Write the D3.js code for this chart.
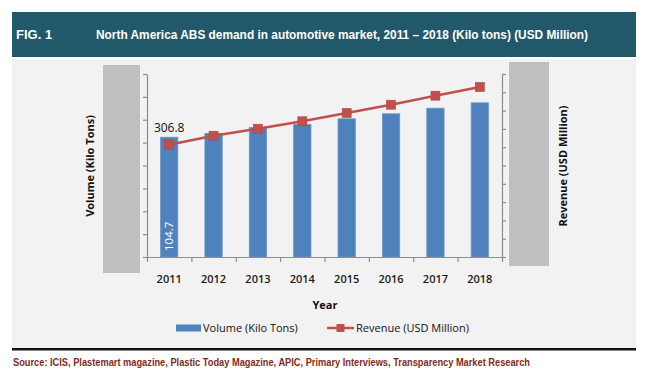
<!DOCTYPE html>
<html>
<head>
<meta charset="utf-8">
<script src="https://cdn.jsdelivr.net/npm/d3@7"></script>
<style>
  body { margin: 0; background: #fff; }
  svg { display: block; }
</style>
</head>
<body>
<div id="chart"></div>
<script>
// chart values
const years = ["2011", "2012", "2013", "2014", "2015", "2016", "2017", "2018"];
const volume = [104.7, 108.0, 113.3, 115.9, 120.8, 125.2, 130.1, 134.8];   // Kilo Tons
const revenue = [306.8, 331.4, 350.5, 370.8, 393.4, 416.1, 440.7, 464.5]; // USD Million
const volumeTicks = [0, 20, 40, 60, 80, 100, 120, 140, 160];
const revenueTicks = [0, 50, 100, 150, 200, 250, 300, 350, 400, 450, 500];

const W = 650, H = 391;
const plot = {left: 147, right: 502, top: 74, bottom: 257};
const BLUE = "#4F81BD", RED = "#C0504D", AXIS = "#8C8C8C";
const FONT = "'Open Sans', 'Noto Sans', sans-serif";
const NARROW = "'Liberation Sans Narrow', 'Arial Narrow', 'Liberation Sans', sans-serif";

const svg = d3.select("#chart")
    .append("svg")
    .attr("width", W)
    .attr("height", H)
    .attr("viewBox", `0 0 ${W} ${H}`);

// panel background + header band
svg.append("rect").attr("x", 12).attr("y", 59).attr("width", 624).attr("height", 289).attr("fill", "#F2F2F2");
svg.append("rect").attr("x", 12).attr("y", 12).attr("width", 624).attr("height", 45).attr("fill", "#22596A");
svg.append("rect").attr("x", 12).attr("y", 348).attr("width", 624).attr("height", 2.5).attr("fill", "#111");

svg.append("text")
    .attr("x", 16).attr("y", 39)
    .attr("font-family", NARROW).attr("font-weight", "bold").attr("font-size", 13)
    .attr("fill", "#fff")
    .text("FIG. 1");

svg.append("text")
    .attr("x", 96).attr("y", 39)
    .attr("font-family", NARROW).attr("font-weight", "bold").attr("font-size", 13)
    .attr("fill", "#fff")
    .attr("textLength", 492).attr("lengthAdjust", "spacingAndGlyphs")
    .text("North America ABS demand in automotive market,  2011 \u2013 2018 (Kilo tons) (USD Million)");

svg.append("text")
    .attr("x", 13).attr("y", 366)
    .attr("font-family", NARROW).attr("font-weight", "bold").attr("font-size", 11)
    .attr("fill", "#7F2B1C")
    .attr("textLength", 517).attr("lengthAdjust", "spacingAndGlyphs")
    .text("Source: ICIS, Plastemart magazine, Plastic Today Magazine, APIC, Primary Interviews, Transparency Market Research");

// grey blocks beside the axes
svg.append("rect").attr("x", 103).attr("y", 65).attr("width", 37).attr("height", 208).attr("fill", "#BFBFBF");
svg.append("rect").attr("x", 509).attr("y", 62).attr("width", 40).attr("height", 204).attr("fill", "#BFBFBF");

// scales
const x = d3.scaleBand()
    .domain(years)
    .range([plot.left, plot.right])
    .paddingInner(0.61)
    .paddingOuter(0.305);

const yL = d3.scaleLinear().domain([0, 160]).range([plot.bottom, plot.top]);
const yR = d3.scaleLinear().domain([0, 500]).range([plot.bottom, plot.top]);
const xEdge = d3.scaleLinear().domain([0, years.length]).range([plot.left, plot.right]);

// bars
svg.append("g").selectAll("rect")
    .data(years)
    .enter()
    .append("rect")
    .attr("x", d => x(d))
    .attr("y", (d, i) => yL(volume[i]))
    .attr("width", x.bandwidth())
    .attr("height", (d, i) => yL(0) - yL(volume[i]))
    .attr("fill", BLUE)
    .attr("stroke", "#6D95C8")
    .attr("stroke-width", 0.8);

// axes
const axisStyle = g => {
  g.selectAll("path, line").attr("stroke", AXIS).attr("stroke-width", 1.2);
  g.selectAll("text").remove();
};

svg.append("g")
    .attr("transform", `translate(${plot.left},0)`)
    .call(d3.axisLeft(yL).tickValues(volumeTicks).tickSize(4).tickSizeOuter(0).tickFormat(""))
    .call(axisStyle);

svg.append("g")
    .attr("transform", `translate(${plot.right},0)`)
    .call(d3.axisRight(yR).tickValues(revenueTicks).tickSize(4).tickSizeOuter(0).tickFormat(""))
    .call(axisStyle);

svg.append("g")
    .attr("transform", `translate(0,${plot.bottom})`)
    .call(d3.axisBottom(xEdge).tickValues(d3.range(years.length + 1)).tickSize(5).tickSizeOuter(0).tickFormat(""))
    .call(axisStyle);

// year labels
svg.append("g")
    .attr("transform", `translate(0,${plot.bottom})`)
    .call(d3.axisBottom(x).tickSize(0).tickPadding(18))
    .call(g => g.select(".domain").remove())
    .call(g => g.selectAll("text")
        .attr("font-family", FONT).attr("font-size", 11).attr("font-weight", 600).attr("fill", "#1a1a1a"));

// revenue line
const line = d3.line()
    .x((d, i) => x(years[i]) + x.bandwidth() / 2)
    .y(d => yR(d));

svg.append("path")
    .datum(revenue)
    .attr("d", line)
    .attr("fill", "none")
    .attr("stroke", RED)
    .attr("stroke-width", 2.5);

const MS = 9;
svg.append("g").selectAll("rect")
    .data(revenue)
    .enter()
    .append("rect")
    .attr("x", (d, i) => x(years[i]) + x.bandwidth() / 2 - MS / 2)
    .attr("y", d => yR(d) - MS / 2)
    .attr("width", MS).attr("height", MS)
    .attr("fill", RED)
    .attr("stroke", "#B5443F").attr("stroke-width", 0.6);

// data labels on the first year
const cx0 = x(years[0]) + x.bandwidth() / 2;
svg.append("text")
    .attr("x", cx0).attr("y", yR(revenue[0]) - 13)
    .attr("text-anchor", "middle")
    .attr("font-family", FONT).attr("font-size", 12).attr("fill", "#111")
    .text(revenue[0]);

svg.append("text")
    .attr("transform", `translate(${cx0 + 4},${yL(0) - 6}) rotate(-90)`)
    .attr("font-family", FONT).attr("font-size", 11.5).attr("fill", "#fff")
    .text(volume[0]);

// axis titles
svg.append("text")
    .attr("transform", `translate(94,166) rotate(-90)`)
    .attr("text-anchor", "middle")
    .attr("font-family", FONT).attr("font-size", 11).attr("font-weight", "bold").attr("fill", "#111")
    .text("Volume (Kilo Tons)");

svg.append("text")
    .attr("transform", `translate(567,166) rotate(-90)`)
    .attr("text-anchor", "middle")
    .attr("font-family", FONT).attr("font-size", 11).attr("font-weight", "bold").attr("fill", "#111")
    .text("Revenue (USD Million)");

svg.append("text")
    .attr("x", 325).attr("y", 309)
    .attr("text-anchor", "middle")
    .attr("font-family", FONT).attr("font-size", 11).attr("font-weight", "bold").attr("fill", "#111")
    .text("Year");

// legend
const leg = svg.append("g").attr("transform", "translate(0,328)");
leg.append("rect").attr("x", 176).attr("y", -3.5).attr("width", 25).attr("height", 7).attr("fill", BLUE);
leg.append("text").attr("x", 203).attr("y", 4)
    .attr("font-family", FONT).attr("font-size", 11).attr("fill", "#111")
    .text("Volume (Kilo Tons)");
leg.append("line").attr("x1", 327).attr("x2", 354).attr("y1", 0).attr("y2", 0)
    .attr("stroke", RED).attr("stroke-width", 2.5);
leg.append("rect").attr("x", 336.5).attr("y", -4).attr("width", 8).attr("height", 8).attr("fill", RED);
leg.append("text").attr("x", 356).attr("y", 4)
    .attr("font-family", FONT).attr("font-size", 11).attr("fill", "#111")
    .text("Revenue (USD Million)");
</script>
</body>
</html>
